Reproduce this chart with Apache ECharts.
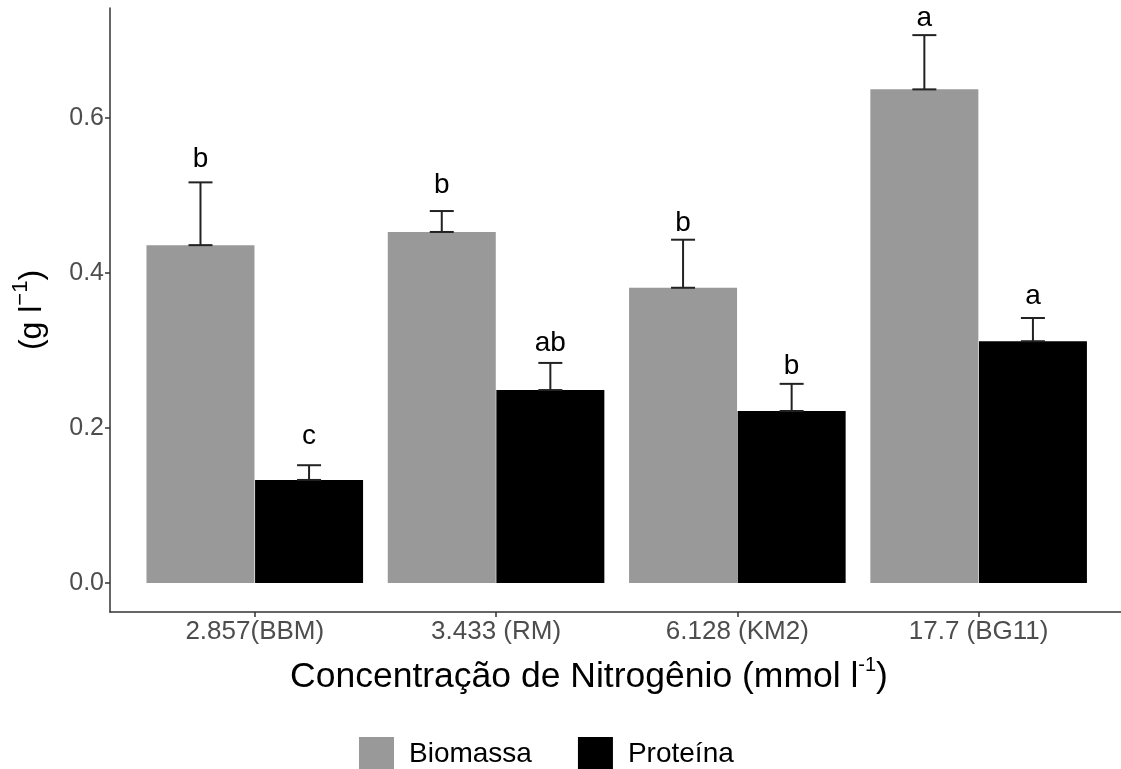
<!DOCTYPE html>
<html>
<head>
<meta charset="utf-8">
<script src="https://cdn.jsdelivr.net/npm/echarts@6/dist/echarts.min.js"></script>
<style>
html,body{margin:0;padding:0;background:#fff;overflow:hidden;}
#chart{width:1121px;height:769px;}
</style>
</head>
<body>
<div id="chart"></div>
<script>
const categories = ['2.857(BBM)', '3.433 (RM)', '6.128 (KM2)', '17.7 (BG11)'];
const biomassa = [0.436, 0.453, 0.381, 0.637];
const biomassaUpper = [0.517, 0.480, 0.443, 0.707];
const proteina = [0.133, 0.249, 0.222, 0.312];
const proteinaUpper = [0.152, 0.284, 0.257, 0.342];
const biomassaLetters = ['b', 'b', 'b', 'a'];
const proteinaLetters = ['c', 'ab', 'b', 'a'];
const biomassaLetterY = [0.535, 0.501, 0.453, 0.717];
const proteinaLetterY = [0.178, 0.298, 0.268, 0.359];
const yTicks = [0, 0.2, 0.4, 0.6];
const xTicks = [1, 2, 3, 4];

const FONT = '"Liberation Sans", Arial, sans-serif';
const OFF = 0.225;

const chart = echarts.init(document.getElementById('chart'));

function errSeries(means, uppers, letters, letterY, offset) {
  return {
    type: 'custom',
    data: means.map((m, i) => [i + 1 + offset, m, uppers[i], letterY[i]]),
    encode: { x: 0, y: [1, 2] },
    z: 5,
    silent: true,
    clip: false,
    renderItem: function (params, api) {
      const x = api.value(0), lo = api.value(1), hi = api.value(2), ly = api.value(3);
      const pLo = api.coord([x, lo]);
      const pHi = api.coord([x, hi]);
      const pL = api.coord([x, ly]);
      const half = 12;
      const st = { stroke: '#222', lineWidth: 2 };
      return {
        type: 'group',
        children: [
          { type: 'line', shape: { x1: pLo[0], y1: pLo[1], x2: pHi[0], y2: pHi[1] }, style: st },
          { type: 'line', shape: { x1: pHi[0] - half, y1: pHi[1], x2: pHi[0] + half, y2: pHi[1] }, style: st },
          { type: 'line', shape: { x1: pLo[0] - half, y1: pLo[1], x2: pLo[0] + half, y2: pLo[1] }, style: st },
          { type: 'text', style: { text: letters[params.dataIndex], x: pL[0], y: pL[1] + 5,
              textAlign: 'center', textVerticalAlign: 'bottom', fontSize: 28, fontFamily: FONT, fill: '#000' } }
        ]
      };
    }
  };
}

chart.setOption({
  animation: false,
  backgroundColor: '#fff',
  grid: { left: 110, right: 0, top: 8, bottom: 157, containLabel: false },
  xAxis: {
    type: 'value',
    min: 0.4,
    max: 4.59,
    splitLine: { show: false },
    axisLine: { show: true, onZero: false, lineStyle: { color: '#333', width: 1.5 } },
    axisTick: { show: true, length: 5, lineStyle: { color: '#333', width: 1.5 }, customValues: xTicks },
    axisLabel: {
      customValues: xTicks,
      formatter: v => categories[Math.round(v) - 1] || '',
      color: '#4d4d4d', fontSize: 26, fontFamily: FONT, margin: 7
    }
  },
  yAxis: {
    type: 'value',
    min: -0.0374,
    max: 0.742,
    splitLine: { show: false },
    axisLine: { show: true, onZero: false, lineStyle: { color: '#333', width: 1.5 } },
    axisTick: { show: true, length: 5, lineStyle: { color: '#333', width: 1.5 }, customValues: yTicks },
    axisLabel: {
      customValues: yTicks,
      formatter: v => v.toFixed(1),
      color: '#4d4d4d', fontSize: 25, fontFamily: FONT, margin: 6
    },
    name: '{a|(g l}{s|−1}{a|)}',
    nameLocation: 'middle',
    nameRotate: 90,
    nameGap: 62,
    nameTextStyle: {
      fontFamily: FONT, color: '#000',
      rich: {
        a: { fontSize: 32, fontFamily: FONT, color: '#000', lineHeight: 38, verticalAlign: 'bottom' },
        s: { fontSize: 22, fontFamily: FONT, color: '#000', lineHeight: 38, verticalAlign: 'top' }
      }
    }
  },
  legend: {
    data: ['Biomassa', 'Proteína'],
    left: 354,
    top: 732,
    icon: 'rect',
    itemWidth: 35,
    itemHeight: 35,
    itemGap: 46,
    textStyle: { fontSize: 28, fontFamily: FONT, color: '#000', padding: [0, 0, 0, 10] }
  },
  graphic: [{
    type: 'text',
    style: {
      text: '{a|Concentração de Nitrogênio (mmol l}{s|-1}{a|)}',
      x: 589, y: 675,
      textAlign: 'center', textVerticalAlign: 'middle',
      rich: {
        a: { fontSize: 35.5, fontFamily: FONT, fill: '#000', lineHeight: 40, verticalAlign: 'bottom' },
        s: { fontSize: 20, fontFamily: FONT, fill: '#000', lineHeight: 40, verticalAlign: 'top' }
      }
    }
  }],
  series: [
    {
      name: 'Biomassa', type: 'bar', barWidth: 108, barGap: '-100%',
      itemStyle: { color: '#999999' },
      data: biomassa.map((v, i) => [i + 1 - OFF, v])
    },
    {
      name: 'Proteína', type: 'bar', barWidth: 108, barGap: '-100%',
      itemStyle: { color: '#000000' },
      data: proteina.map((v, i) => [i + 1 + OFF, v])
    },
    errSeries(biomassa, biomassaUpper, biomassaLetters, biomassaLetterY, -OFF),
    errSeries(proteina, proteinaUpper, proteinaLetters, proteinaLetterY, OFF)
  ]
});
</script>
</body>
</html>
